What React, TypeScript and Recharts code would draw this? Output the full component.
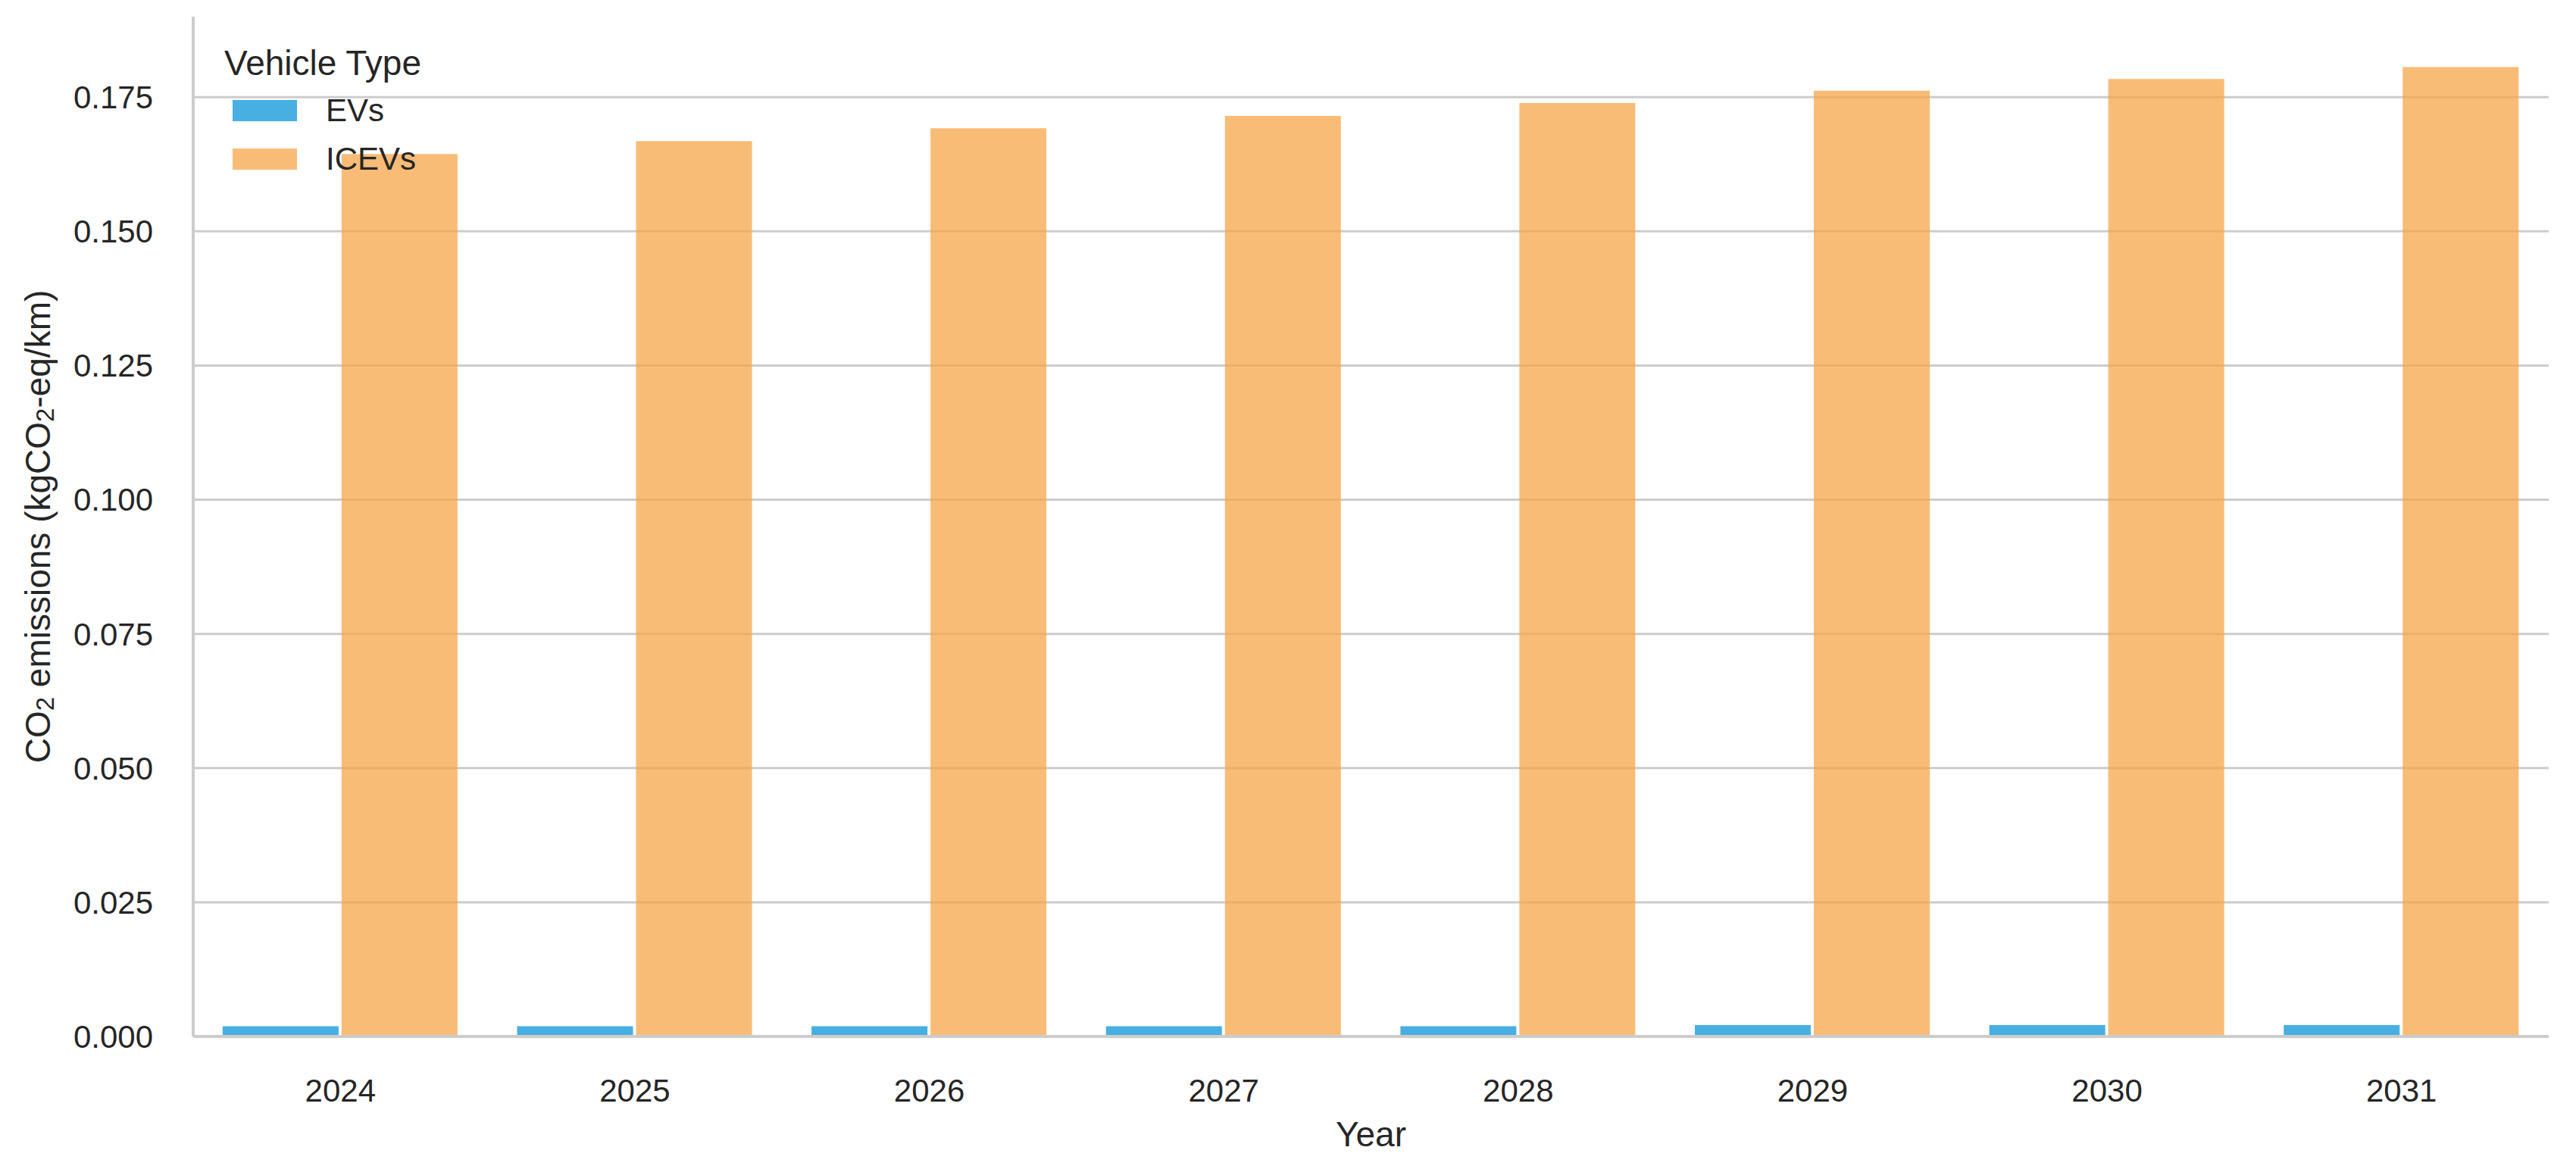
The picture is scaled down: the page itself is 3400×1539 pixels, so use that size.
import React from 'react';
import { BarChart, Bar, XAxis, YAxis, CartesianGrid, Legend } from 'recharts';

const years = ['2024', '2025', '2026', '2027', '2028', '2029', '2030', '2031'];
const evEmissions = [0.0019, 0.0019, 0.0019, 0.0019, 0.0019, 0.0021, 0.0021, 0.0021];
const icevEmissions = [0.1644, 0.1668, 0.1692, 0.1715, 0.1739, 0.1762, 0.1784, 0.1806];
const yTicks = [0, 0.025, 0.05, 0.075, 0.1, 0.125, 0.15, 0.175];
const yMax = 0.19;

const seriesNames = ['EVs', 'ICEVs'];
const FONT = '"Liberation Sans", Arial, Helvetica, sans-serif';
const TEXT = '#262626';
const GRID = '#cccccc';

// bar fills are semi-transparent so the grid shows through, like the original
const COLORS: Record<string, { fill: string; solid: string }> = {
  EVs: { fill: '#0A94D8', solid: 'rgb(71,175,226)' },
  ICEVs: { fill: '#F5A54A', solid: 'rgb(248,188,119)' },
};

const data = years.map((year, i) => ({
  year,
  EVs: evEmissions[i],
  ICEVs: icevEmissions[i],
}));

const YLabel = (props: any) => {
  const vb = props.viewBox || { x: 0, y: 0, width: 0, height: 0 };
  const cx = 50;
  const cy = vb.y + vb.height / 2;
  return (
    <text
      x={cx}
      y={cy}
      transform={`rotate(-90, ${cx}, ${cy})`}
      textAnchor="middle"
      dominantBaseline="central"
      fill={TEXT}
      fontFamily={FONT}
      fontSize={46}
    >
      <tspan>CO</tspan>
      <tspan fontSize={33} dy={9}>2</tspan>
      <tspan dy={-9}> emissions (kgCO</tspan>
      <tspan fontSize={33} dy={9}>2</tspan>
      <tspan dy={-9}>-eq/km)</tspan>
    </text>
  );
};

const XLabel = (props: any) => {
  const vb = props.viewBox || { x: 0, y: 0, width: 0, height: 0 };
  return (
    <text
      x={vb.x + vb.width / 2}
      y={vb.y + 129}
      textAnchor="middle"
      dominantBaseline="central"
      fill={TEXT}
      fontFamily={FONT}
      fontSize={46}
    >
      Year
    </text>
  );
};

// only draw grid lines at the tick values (no line at the top of the domain)
const gridRows = ({ yAxis, offset }: any) => {
  if (yAxis && typeof yAxis.scale === 'function') {
    return yTicks.map((t) => yAxis.scale(t));
  }
  return yTicks.map((t) => offset.top + offset.height * (1 - t / yMax));
};

const renderLegend = () => (
  <div style={{ fontFamily: FONT, color: TEXT }}>
    <div style={{ fontSize: 46, lineHeight: '52px', whiteSpace: 'nowrap' }}>Vehicle Type</div>
    <div style={{ marginTop: 5 }}>
      {seriesNames.map((name) => (
        <div key={name} style={{ display: 'flex', alignItems: 'center', height: 64 }}>
          <div style={{ marginLeft: 11, width: 85, height: 28, background: COLORS[name].solid }} />
          <div style={{ marginLeft: 38, fontSize: 42, whiteSpace: 'nowrap' }}>{name}</div>
        </div>
      ))}
    </div>
  </div>
);

export default function App() {
  return (
    <div style={{ position: 'absolute', left: 0, top: 0, width: 3400, height: 1539, background: '#fff' }}>
      <BarChart
        width={3400}
        height={1539}
        data={data}
        margin={{ top: 22, right: 36, bottom: 0, left: 0 }}
        barCategoryGap="10%"
        barGap={4}
      >
        <CartesianGrid
          vertical={false}
          stroke={GRID}
          strokeWidth={3}
          horizontalCoordinatesGenerator={gridRows}
        />
        <XAxis
          dataKey="year"
          height={171}
          tickSize={0}
          tickMargin={56}
          axisLine={{ stroke: GRID, strokeWidth: 4 }}
          tickLine={false}
          tick={{ fill: TEXT, fontSize: 42, fontFamily: FONT }}
          label={<XLabel />}
        />
        <YAxis
          width={255}
          domain={[0, yMax]}
          ticks={yTicks}
          tickFormatter={(v: number) => v.toFixed(3)}
          tickSize={0}
          tickMargin={53}
          axisLine={{ stroke: GRID, strokeWidth: 4 }}
          tickLine={false}
          tick={{ fill: TEXT, fontSize: 42, fontFamily: FONT }}
          label={<YLabel />}
        />
        <Legend
          layout="vertical"
          align="center"
          verticalAlign="middle"
          content={renderLegend}
          wrapperStyle={{ top: 57, left: 296, width: 'auto', height: 'auto' }}
        />
        {seriesNames.map((name) => (
          <Bar
            key={name}
            dataKey={name}
            fill={COLORS[name].fill}
            fillOpacity={0.75}
            isAnimationActive={false}
          />
        ))}
      </BarChart>
    </div>
  );
}
